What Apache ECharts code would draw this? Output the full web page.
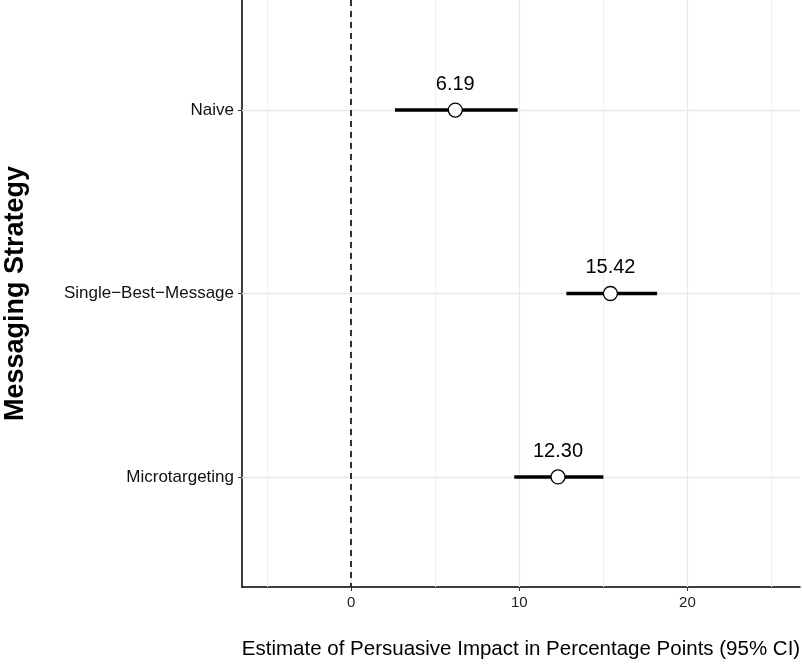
<!DOCTYPE html>
<html>
<head>
<meta charset="utf-8">
<script src="https://cdn.jsdelivr.net/npm/echarts@6/dist/echarts.min.js"></script>
<style>
html,body{margin:0;padding:0;background:#fff;}
#c{width:802px;height:665px;}
</style>
</head>
<body>
<div id="c"></div>
<script>
const categories = ['Naive', 'Single\u2212Best\u2212Message', 'Microtargeting'];
const estimates = [6.19, 15.42, 12.30];
const ciLow = [2.6, 12.8, 9.7];
const ciHigh = [9.9, 18.2, 15.0];
const xTickLabels = [0, 10, 20];
const xMinorGrid = [-5, 5, 15, 25];

const FONT = "'Liberation Sans', Arial, Helvetica, sans-serif";
const chart = echarts.init(document.getElementById('c'));

const catPos = categories.map((c, i) => i + 1);

const gridLines = [];
xMinorGrid.forEach(v => gridLines.push({xAxis: v, lineStyle: {color: '#f0f0f0', width: 1, type: 'solid'}}));
xTickLabels.forEach(v => gridLines.push({xAxis: v, lineStyle: {color: '#e8e8e8', width: 1.3, type: 'solid'}}));
catPos.forEach(v => gridLines.push({yAxis: v, lineStyle: {color: '#e8e8e8', width: 1.3, type: 'solid'}}));

chart.setOption({
  animation: false,
  backgroundColor: '#fff',
  grid: {left: 242, right: 2, top: 0, bottom: 78, containLabel: false, outerBoundsMode: 'none'},
  xAxis: {
    type: 'value', min: -6.5, max: 26.7,
    axisLine: {show: true, onZero: false, lineStyle: {color: '#000', width: 1.5}},
    axisTick: {show: true, customValues: xTickLabels, length: 4, lineStyle: {color: '#333', width: 1}},
    axisLabel: {customValues: xTickLabels, color: '#222', fontSize: 15, fontFamily: FONT, margin: 8},
    splitLine: {show: false},
    name: 'Estimate of Persuasive Impact in Percentage Points (95% CI)',
    nameLocation: 'middle', nameGap: 52,
    nameTextStyle: {color: '#000', fontSize: 20.5, fontFamily: FONT}
  },
  yAxis: {
    type: 'value', min: 0.4, max: 3.6, inverse: true,
    axisLine: {show: true, onZero: false, lineStyle: {color: '#000', width: 1.5}},
    axisTick: {show: true, customValues: catPos, length: 4, lineStyle: {color: '#333', width: 1}},
    axisLabel: {customValues: catPos, formatter: v => categories[Math.round(v) - 1] || '', color: '#111', fontSize: 17, fontFamily: FONT, margin: 8},
    splitLine: {show: false},
    name: 'Messaging Strategy',
    nameLocation: 'middle', nameGap: 213, nameRotate: 90,
    nameTextStyle: {color: '#000', fontSize: 27, fontWeight: 'bold', fontFamily: FONT}
  },
  series: [
    {
      type: 'line', data: [], silent: true, z: 1,
      markLine: {silent: true, z: 1, symbol: 'none', label: {show: false}, animation: false, data: gridLines}
    },
    {
      type: 'line', data: [], silent: true, z: 2,
      markLine: {silent: true, z: 2, symbol: 'none', label: {show: false}, animation: false,
        data: [{xAxis: 0, lineStyle: {color: '#000', width: 1.6, type: [6, 5]}}]}
    },
    {
      type: 'custom', z: 3,
      data: categories.map((c, i) => [ciLow[i], ciHigh[i], catPos[i]]),
      renderItem: function (params, api) {
        const p1 = api.coord([api.value(0), api.value(2)]);
        const p2 = api.coord([api.value(1), api.value(2)]);
        return {type: 'line', shape: {x1: p1[0], y1: p1[1], x2: p2[0], y2: p2[1]},
          style: {stroke: '#000', lineWidth: 3.5}};
      }
    },
    {
      type: 'scatter', z: 4,
      symbol: 'circle', symbolSize: 14,
      itemStyle: {color: '#fff', borderColor: '#000', borderWidth: 1.3, opacity: 1},
      data: categories.map((c, i) => [estimates[i], catPos[i]]),
      label: {show: true, position: 'top', distance: 8, formatter: p => p.value[0].toFixed(2),
        color: '#000', opacity: 1, fontSize: 20, fontFamily: FONT}
    }
  ]
});
</script>
</body>
</html>
